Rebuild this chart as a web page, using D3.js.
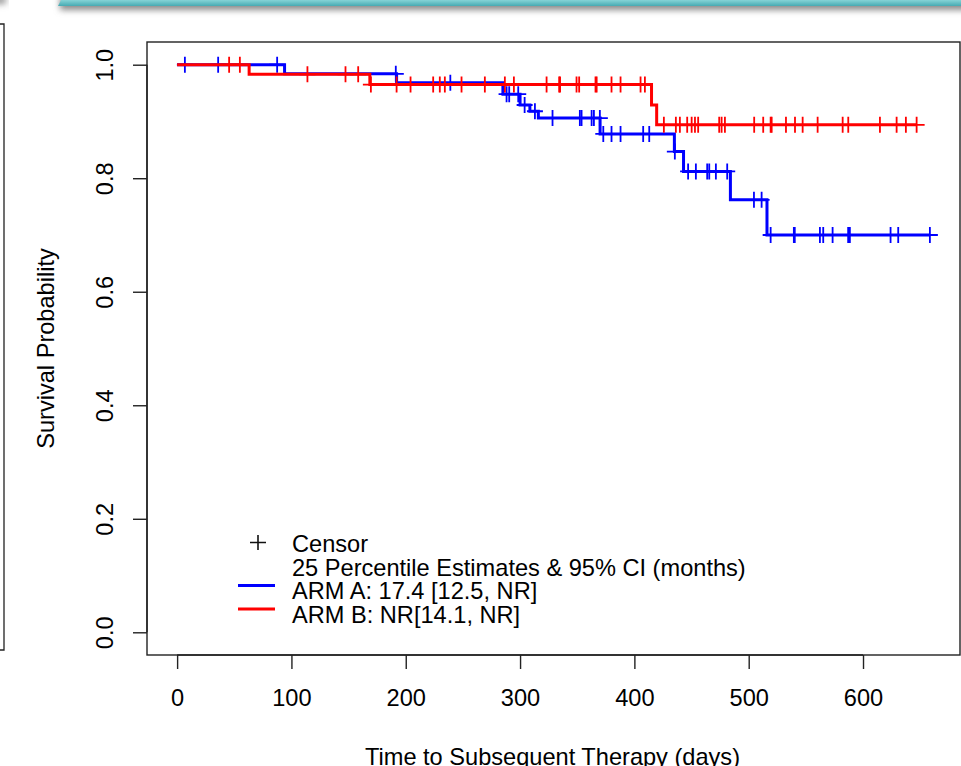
<!DOCTYPE html>
<html>
<head>
<meta charset="utf-8">
<script src="https://cdn.jsdelivr.net/npm/d3@7"></script>
<style>
  body { margin: 0; background: #fff; }
  svg { display: block; }
  text { font-family: "Liberation Sans", Arial, sans-serif; fill: #000; }
</style>
</head>
<body>
<div id="chart"></div>
<script>
// chart size
var width = 961,
    height = 766,
    fontSize = "23.6px"

// Kaplan-Meier steps (days, survival)
var armATimes = [0, 94, 192, 285, 300, 308.6, 316, 370, 435, 443, 484, 516]
var armASurv  = [1, 0.984, 0.968, 0.948, 0.929, 0.918, 0.906, 0.878, 0.847, 0.812, 0.762, 0.700]
var armACensor = [6.8, 35.9, 87.5, 191.3, 239, 288.2, 290.5, 298.4, 304, 313, 328.4, 352.3, 353.8,
                  362.6, 364.6, 369.8, 372.8, 380, 387.9, 407.7, 413, 435.4, 447, 453.8, 463.7,
                  465.5, 471.3, 481.2, 504.6, 511.3, 519.2, 539.5, 540.3, 562.3, 565.2, 573.4,
                  587, 588.5, 624.1, 630.8, 658.5]

var armBTimes = [0, 63, 168.6, 415, 419.5]
var armBSurv  = [1, 0.983, 0.965, 0.929, 0.894]
var armBCensor = [45.5, 54.9, 114, 147.3, 158.4, 169.5, 192, 204.2, 224, 229.8, 234.2, 248.8,
                  269.2, 286.7, 294.6, 323.2, 334.2, 335, 349.4, 351.7, 366, 367, 380, 387.9,
                  405.4, 409.2, 425.8, 436.3, 439.8, 446.2, 450.1, 453, 455.8, 474.2, 476.3,
                  479.2, 504.8, 512.7, 519.2, 520.1, 532.6, 540.5, 547.2, 560.3, 582.2, 587.1,
                  614.8, 629.4, 637.5, 646.9]

var xTicks = [0, 100, 200, 300, 400, 500, 600]
var yTicks = [0, 0.2, 0.4, 0.6, 0.8, 1.0]

var legendLabels = ["Censor", "25 Percentile Estimates & 95% CI (months)",
                    "ARM A: 17.4 [12.5, NR]", "ARM B: NR[14.1, NR]"]

var svg = d3.select("#chart")
    .append("svg")
    .attr("width", width)
    .attr("height", height)

// decoration at the top: teal bar with a shadow, and an edge on the left
var defs = svg.append("defs")
defs.append("filter").attr("id", "blur")
    .attr("x", "-20%").attr("y", "-100%").attr("width", "140%").attr("height", "400%")
    .append("feGaussianBlur").attr("stdDeviation", 3)
var grad = defs.append("linearGradient").attr("id", "teal")
    .attr("x1", 0).attr("y1", 0).attr("x2", 0).attr("y2", 1)
grad.append("stop").attr("offset", "0%").attr("stop-color", "#86d3d6")
grad.append("stop").attr("offset", "100%").attr("stop-color", "#47aab2")

svg.append("rect")
    .attr("x", 60).attr("y", -4).attr("width", 920).attr("height", 14)
    .attr("fill", "#8a8a8a").attr("filter", "url(#blur)")
svg.append("path")
    .attr("d", "M58,6 L61,0 L961,0 L961,6 Z")
    .attr("fill", "url(#teal)")
svg.append("rect")
    .attr("x", -6).attr("y", -4).attr("width", 12).attr("height", 8)
    .attr("fill", "#999").attr("filter", "url(#blur)")
svg.append("path")
    .attr("d", "M0,24 H4 V650 H0")
    .attr("fill", "none").attr("stroke", "#222").attr("stroke-width", 1.3)

// plot area, with R's 4% padding on the ranges
var plotLeft = 147, plotRight = 960, plotTop = 42, plotBottom = 655
var maxTime = d3.max(armACensor.concat(armBCensor))
var pad = maxTime * 0.04

var x = d3.scaleLinear().domain([-pad, maxTime + pad]).range([plotLeft, plotRight])
var y = d3.scaleLinear().domain([-0.04, 1.04]).range([plotBottom, plotTop])

svg.append("rect")
    .attr("x", plotLeft).attr("y", plotTop)
    .attr("width", plotRight - plotLeft).attr("height", plotBottom - plotTop)
    .attr("fill", "none").attr("stroke", "#222").attr("stroke-width", 1.4)

// x axis
var xAxis = svg.append("g")
    .attr("transform", "translate(0," + plotBottom + ")")
    .call(d3.axisBottom(x).tickValues(xTicks).tickSize(14).tickPadding(20).tickSizeOuter(0))
xAxis.select(".domain").attr("stroke", "#222").attr("stroke-width", 1.4)
    .attr("d", "M" + x(0) + ",0H" + x(600))
xAxis.selectAll(".tick line").attr("stroke", "#222").attr("stroke-width", 1.4)
xAxis.selectAll(".tick text")
    .style("font-family", "Liberation Sans, Arial, sans-serif")
    .style("font-size", fontSize).attr("fill", "#111")

// y axis, labels turned like R's default
var yAxis = svg.append("g")
    .attr("transform", "translate(" + plotLeft + ",0)")
    .call(d3.axisLeft(y).tickValues(yTicks).tickSize(14).tickSizeOuter(0)
        .tickFormat(d3.format(".1f")))
yAxis.select(".domain").attr("stroke", "#222").attr("stroke-width", 1.4)
    .attr("d", "M0," + y(0) + "V" + y(1))
yAxis.selectAll(".tick line").attr("stroke", "#222").attr("stroke-width", 1.4)
yAxis.selectAll(".tick text")
    .attr("x", null).attr("dy", null)
    .attr("transform", "translate(-34,0) rotate(-90)")
    .attr("text-anchor", "middle")
    .style("font-family", "Liberation Sans, Arial, sans-serif")
    .style("font-size", fontSize).attr("fill", "#111")

// axis titles
svg.append("text")
    .attr("transform", "translate(54," + (plotTop + plotBottom) / 2 + ") rotate(-90)")
    .attr("text-anchor", "middle")
    .style("font-size", fontSize)
    .text("Survival Probability")
svg.append("text")
    .attr("x", (plotLeft + plotRight) / 2 - 1).attr("y", 765)
    .attr("text-anchor", "middle")
    .style("font-size", fontSize)
    .text("Time to Subsequent Therapy (days)")

// step value at a given time
function survAt(times, surv, t) {
  var s = surv[0]
  for (var i = 0; i < times.length; i++) if (times[i] <= t) s = surv[i]
  return s
}

var step = d3.line()
    .x(function(d) { return x(d[0]) })
    .y(function(d) { return y(d[1]) })
    .curve(d3.curveStepAfter)

function drawArm(times, surv, censor, color) {
  var end = d3.max(censor)
  var pts = times.map(function(t, i) { return [t, surv[i]] })
  pts.push([end, surv[surv.length - 1]])
  svg.append("path")
      .datum(pts)
      .attr("d", step)
      .attr("fill", "none")
      .attr("stroke", color)
      .attr("stroke-width", 3)

  svg.append("g").selectAll("path")
      .data(censor)
      .enter()
      .append("path")
      .attr("d", function(t) {
        var cx = x(t), cy = y(survAt(times, surv, t))
        return "M" + (cx - 8) + "," + cy + "H" + (cx + 8) + "M" + cx + "," + (cy - 8) + "V" + (cy + 8)
      })
      .attr("stroke", color)
      .attr("stroke-width", 1.8)
      .attr("fill", "none")
}

drawArm(armATimes, armASurv, armACensor, "#0000ff")
drawArm(armBTimes, armBSurv, armBCensor, "#ff0000")

// legend
var lg = svg.append("g")
var lx = 292, ly = 552, lh = 23.5
lg.append("path")
    .attr("d", "M250," + (ly - 9.5) + "H266M258," + (ly - 17) + "V" + (ly - 2))
    .attr("stroke", "#111").attr("stroke-width", 1.6)
lg.selectAll("text")
    .data(legendLabels)
    .enter()
    .append("text")
    .attr("x", lx)
    .attr("y", function(d, i) { return ly + i * lh })
    .style("font-size", fontSize)
    .text(function(d) { return d })
lg.selectAll("line")
    .data(["#0000ff", "#ff0000"])
    .enter()
    .append("line")
    .attr("x1", 238).attr("x2", 275)
    .attr("y1", function(d, i) { return ly + (i + 2) * lh - 13.5 })
    .attr("y2", function(d, i) { return ly + (i + 2) * lh - 13.5 })
    .attr("stroke", function(d) { return d })
    .attr("stroke-width", 3)
</script>
</body>
</html>
